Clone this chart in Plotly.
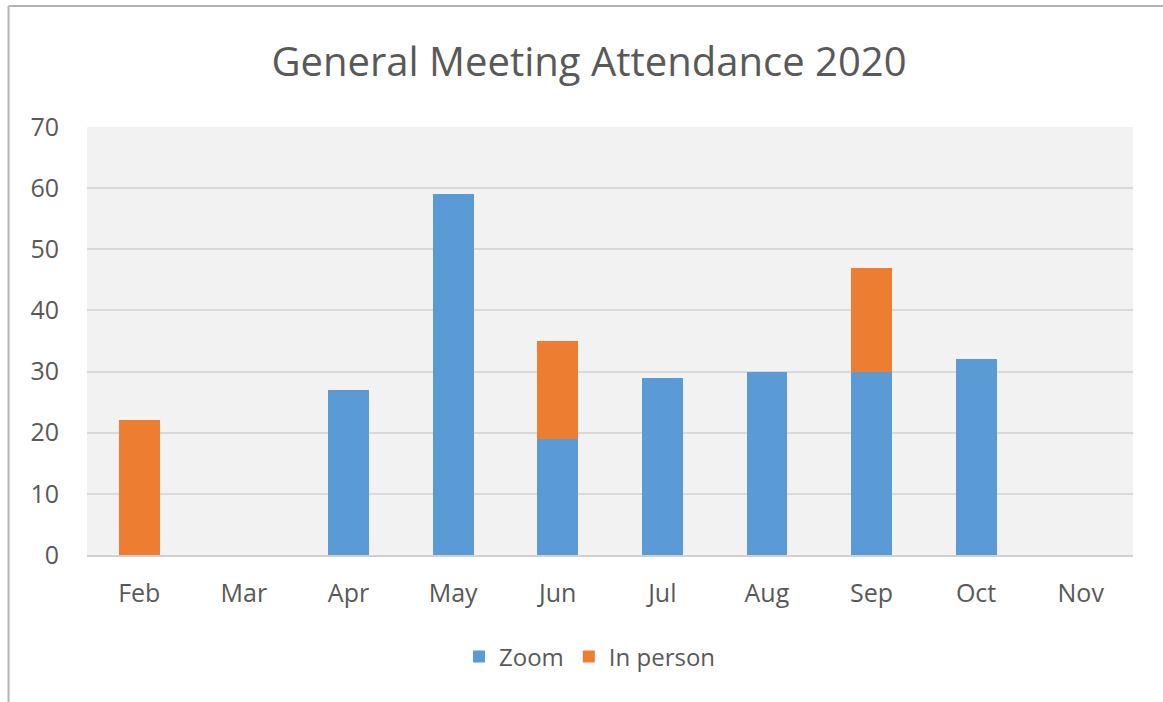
import plotly.graph_objects as go

months = ["Feb", "Mar", "Apr", "May", "Jun", "Jul", "Aug", "Sep", "Oct", "Nov"]
zoom = [None, None, 27, 59, 19, 29, 30, 30, 32, None]
in_person = [22, None, None, None, 16, None, None, 17, None, None]

W, H = 1163, 702
L, R, T, B = 87, 1133, 127, 555
TXT = "#595959"
FONT = "Open Sans"

fig = go.Figure()
fig.add_trace(go.Bar(x=months, y=zoom, name="Zoom", marker=dict(color="#5B9BD5", line=dict(width=0))))
fig.add_trace(go.Bar(x=months, y=in_person, name="In person", marker=dict(color="#ED7D31", line=dict(width=0))))

def px_x(p):
    return (p - L) / (R - L)

def px_y(p):
    return (B - p) / (B - T)

fig.update_layout(
    width=W, height=H,
    barmode="stack", bargap=0.61,
    paper_bgcolor="white", plot_bgcolor="#f2f2f2",
    margin=dict(l=L, r=W - R, t=T, b=H - B, autoexpand=False),
    font=dict(family=FONT, color=TXT, size=25),
    title=dict(text="General Meeting Attendance 2020", font=dict(size=40, color=TXT, family=FONT),
               xref="container", yref="container", x=589 / W, y=1 - 62 / H,
               xanchor="center", yanchor="middle"),
    legend=dict(orientation="h", xref="container", yref="container", x=590 / W, y=1 - 657 / H,
                xanchor="center", yanchor="middle", font=dict(size=24, color=TXT),
                itemwidth=30, traceorder="normal"),
    showlegend=True,
)
fig.update_yaxes(range=[0, 70], dtick=10, showgrid=True, gridcolor="#d9d9d9", gridwidth=1.5,
                 zeroline=False, showline=False, ticks="", ticklabelstandoff=27,
                 tickfont=dict(size=25, color=TXT, family=FONT), fixedrange=True)
fig.update_xaxes(showgrid=False, showline=True, linecolor="#d0d0d0", linewidth=1.5, ticks="",
                 ticklabelstandoff=15, tickfont=dict(size=25, color=TXT, family=FONT))

# chart border (left and top edges visible)
fig.add_shape(type="line", xref="paper", yref="paper", x0=px_x(8.5), x1=px_x(1170), y0=px_y(6), y1=px_y(6),
              line=dict(color="#b4b4b4", width=2))
fig.add_shape(type="line", xref="paper", yref="paper", x0=px_x(8.5), x1=px_x(8.5), y0=px_y(6), y1=px_y(710),
              line=dict(color="#b4b4b4", width=2))

fig.write_html("out.html", config={"displayModeBar": False},
               post_script="document.body.style.margin='0';")
